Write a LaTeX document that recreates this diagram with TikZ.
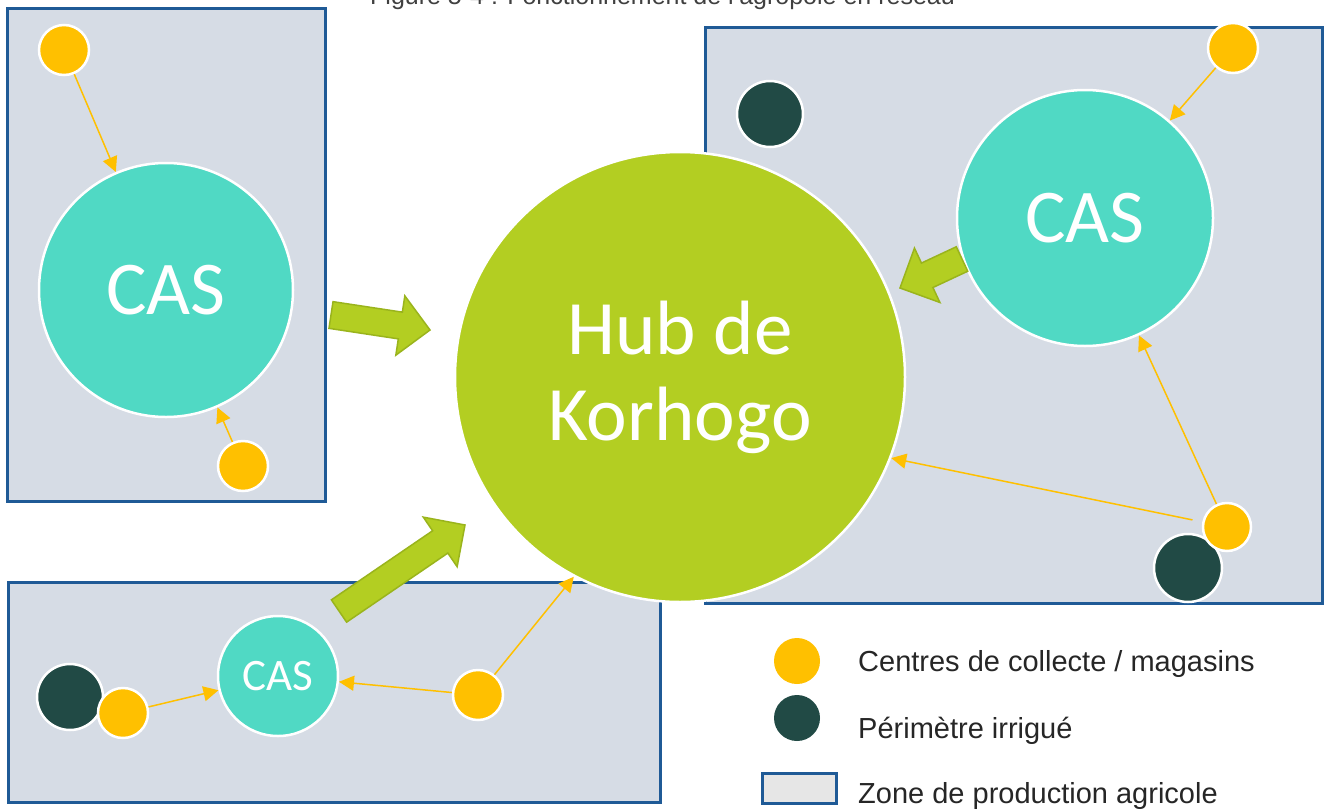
\documentclass[tikz,border=0pt]{standalone}
\usepackage{fontspec}
\setmainfont{Liberation Sans}
\newfontfamily\calib{Carlito}
\usetikzlibrary{arrows.meta,calc}
\definecolor{zonefill}{HTML}{D6DCE5}
\definecolor{zoneline}{HTML}{1F5A96}
\definecolor{hubgreen}{HTML}{B3CE22}
\definecolor{arrowedge}{HTML}{9AB41C}
\definecolor{casteal}{HTML}{50D9C4}
\definecolor{collect}{HTML}{FFC000}
\definecolor{irrig}{HTML}{214A45}
\definecolor{legendgrey}{HTML}{E6E6E6}
\definecolor{captiongrey}{HTML}{404040}
\tikzset{
 zone/.style={draw=zoneline, fill=zonefill, line width=3pt, rectangle, inner sep=0pt, outer sep=0pt},
 hubnode/.style={circle, fill=hubgreen, draw=white, line width=2.5pt, minimum size=450pt, inner sep=0pt, text=white, font=\calib\fontsize{77}{86}\selectfont, align=center},
 casnode/.style={circle, fill=casteal, draw=white, line width=2.5pt, inner sep=0pt, text=white},
 collectnode/.style={circle, fill=collect, draw=white, line width=2.5pt, minimum size=50pt, inner sep=0pt},
 irrignode/.style={circle, fill=irrig, draw=white, line width=2.5pt, minimum size=66pt, inner sep=0pt},
 flow/.style={draw=collect, line width=1.5pt, -{Triangle[length=15pt,width=15pt]}},
 bigarrow/.style={fill=hubgreen, draw=arrowedge, line width=1.5pt, line join=miter},
 legendtext/.style={anchor=base west, inner sep=0pt, font=\fontsize{29}{34}\selectfont, text=black!85},
}
\newcommand\blkarrow[2]{%
  \coordinate (#1-#2-h) at ($(#2)!30pt!(#1)$);
  \draw[bigarrow] ($(#1)!13.5pt!90:(#2)$) -- ($(#1-#2-h)!13.5pt!90:(#2)$) -- ($(#1-#2-h)!30pt!90:(#2)$) -- (#2)
    -- ($(#1-#2-h)!30pt!-90:(#2)$) -- ($(#1-#2-h)!13.5pt!-90:(#2)$) -- ($(#1)!13.5pt!-90:(#2)$) -- cycle;}
\begin{document}
\begin{tikzpicture}[x=1pt,y=-1pt]
\useasboundingbox (0,0) rectangle (1331,809);
\fill[white] (0,0) rectangle (1331,809);
\begin{scope}
\clip (0,0) rectangle (1331,809);
\node[anchor=base west, font=\fontsize{25}{28}\selectfont, text=captiongrey, inner sep=0pt] (caption) at (370,4) {Figure 5-4 : Fonctionnement de l'agropôle en réseau};
\end{scope}
% zones
\node[zone, minimum width=318pt, minimum height=493pt] (zoneW) at (166,254.5) {};
\node[zone, minimum width=617pt, minimum height=576pt] (zoneE) at (1013.5,315) {};
\node[zone, minimum width=652pt, minimum height=220pt] (zoneS) at (334,692) {};
% irrigated perimeters
\node[irrignode] (irrE1) at (770,114) {};
\node[irrignode, minimum size=68pt] (irrE2) at (1188,568) {};
\node[irrignode] (irrS) at (70,697) {};
% hub and CAS
\node[hubnode] (hub) at (680,377) {Hub de\\Korhogo};
\node[casnode, minimum size=254pt, font=\calib\fontsize{76}{80}\selectfont] (casW) at (166,290) {CAS};
\node[casnode, minimum size=256pt, font=\calib\fontsize{76}{80}\selectfont] (casE) at (1085,218) {CAS};
\node[casnode, minimum size=120pt, font=\calib\fontsize{45}{50}\selectfont] (casS) at (278,676) {CAS};
% collection centres
\node[collectnode] (cW1) at (64,50) {};
\node[collectnode] (cW2) at (243,466) {};
\node[collectnode] (cE1) at (1233,48) {};
\node[collectnode, minimum size=48pt] (cE2) at (1227,527) {};
\node[collectnode] (cS1) at (478,695) {};
\node[collectnode] (cS2) at (123,713) {};
% thin flows
\draw[flow] (cW1) -- (casW);
\draw[flow] (cW2) -- (casW);
\draw[flow] (cE1) -- (casE);
\draw[flow] (cE2) -- (casE);
\draw[flow, shorten <=10pt] (cE2) -- (hub.-21.5);
\draw[flow] (cS1) -- (hub.242.5);
\draw[flow] (cS1) -- (casS);
\draw[flow] (cS2) -- (casS);
% big arrows CAS -> hub
\coordinate (casW-out) at (331,315);
\coordinate (hub-inW) at (430,330);
\coordinate (casE-out) at (962,259);
\coordinate (hub-inE) at (900,288);
\coordinate (casS-out) at (339,611);
\coordinate (hub-inS) at (465,525);
\blkarrow{casW-out}{hub-inW}
\blkarrow{casE-out}{hub-inE}
\blkarrow{casS-out}{hub-inS}
% legend
\node[collectnode, minimum size=46pt, draw=none] (legC) at (797,661) {};
\node[irrignode, minimum size=46pt, draw=none] (legI) at (797,718) {};
\node[zone, fill=legendgrey, minimum width=74pt, minimum height=30pt] (legZ) at (799,788) {};
\node[legendtext] (legCt) at (858,671) {Centres de collecte / magasins};
\node[legendtext] (legIt) at (858,738) {Périmètre irrigué};
\node[legendtext] (legZt) at (858,803) {Zone de production agricole};
\end{tikzpicture}
\end{document}
